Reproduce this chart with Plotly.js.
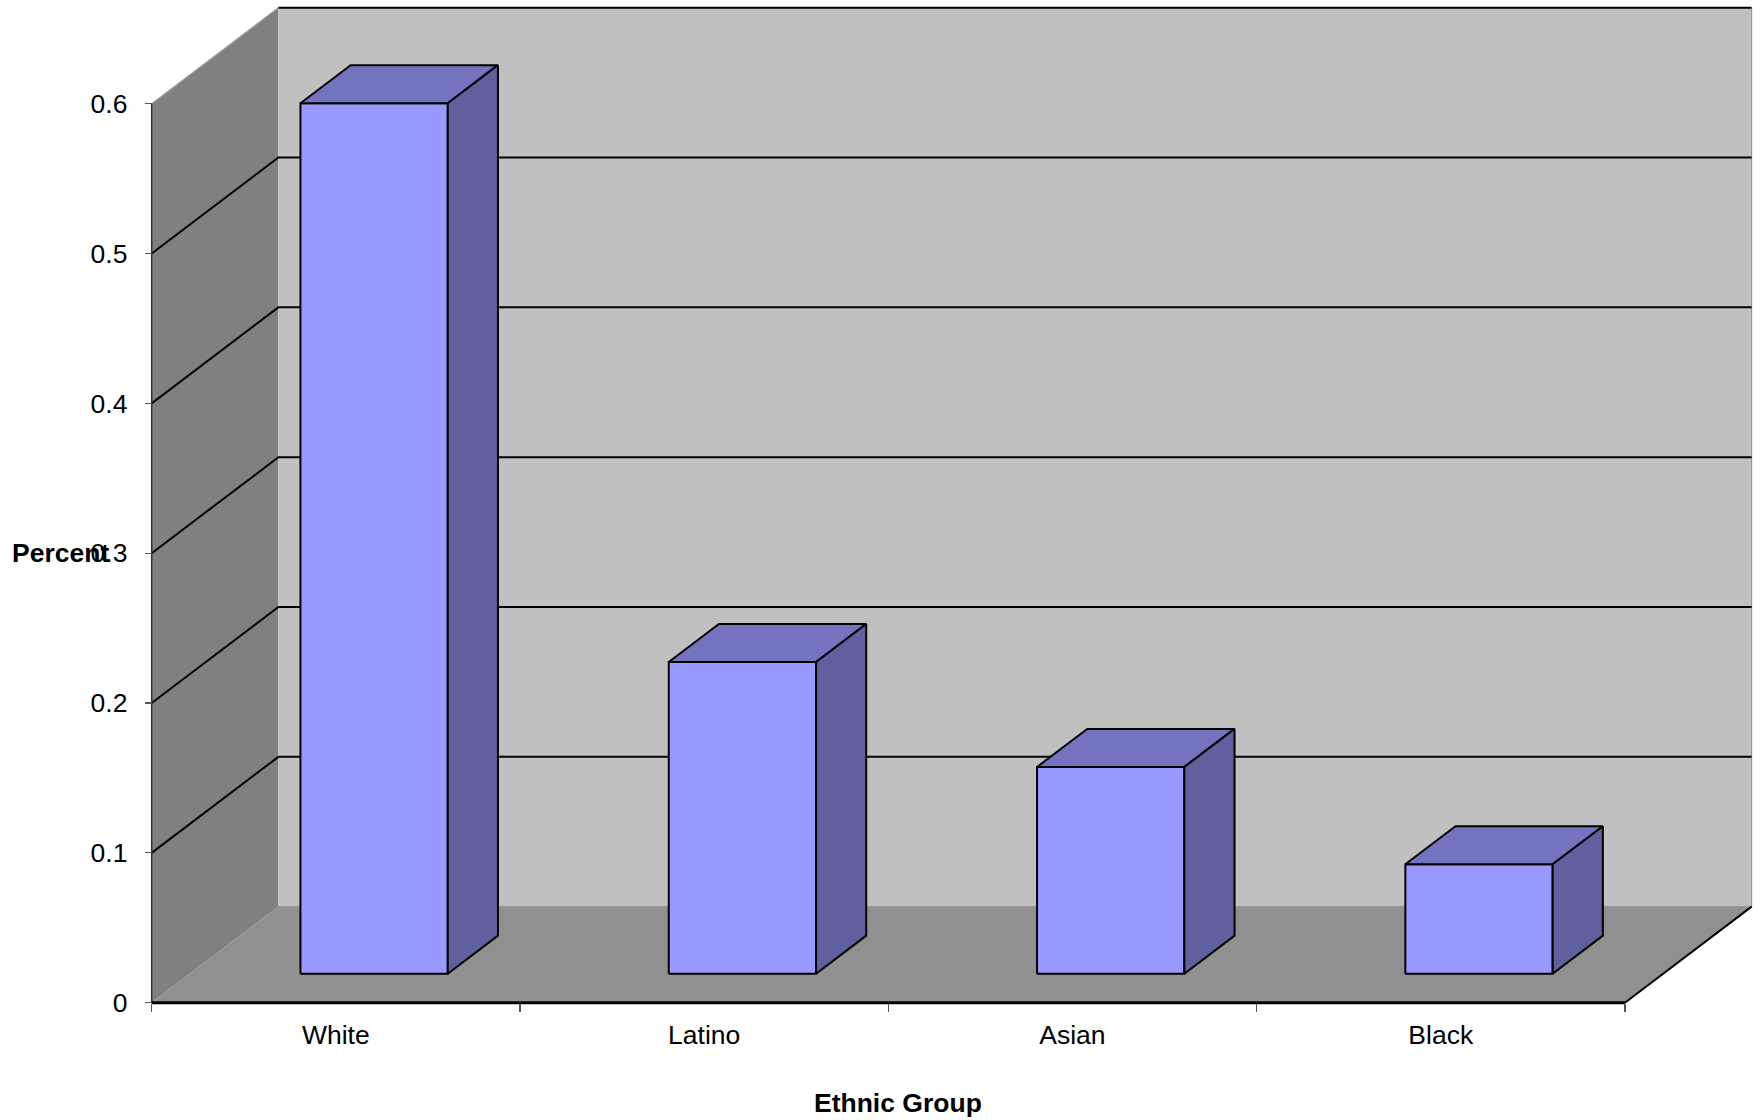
<!DOCTYPE html>
<html>
<head>
<meta charset="utf-8">
<script src="https://cdn.plot.ly/plotly-3.0.1.min.js"></script>
<style>
  html, body { margin: 0; padding: 0; background: #ffffff; }
  #chart { width: 1760px; height: 1120px; }
</style>
</head>
<body>
<div id="chart"></div>
<script>
// ---- data ----
const categories = ['White', 'Latino', 'Asian', 'Black'];
const shares = [0.581, 0.208, 0.138, 0.073];
const yTickValues = [0, 0.1, 0.2, 0.3, 0.4, 0.5, 0.6];
const yTickLabels = ['0', '0.1', '0.2', '0.3', '0.4', '0.5', '0.6'];
const xAxisTitle = 'Ethnic Group';
const yAxisTitle = 'Percent';

// ---- geometry of the oblique 3-D box ----
const W = 1760, H = 1120;
const OX = 151.7, OY = 1002.7;      // front-left floor corner, in pixels
const UX = 368.3, UY = 1498.3;      // pixels per category / per unit of value
const M = { l: 120, r: 4, t: 4, b: 100 };
const plotW = W - M.l - M.r, plotH = H - M.t - M.b;
const DX = 0.344;                   // depth shift along x (category units)
const DY = 0.0641;                  // depth shift along y (value units)
const WALL_TOP = 0.6;
const BAR_LO = 0.3, BAR_HI = 0.7;   // bar span inside a category slot
const F_FRONT = 0.302, F_BACK = 0.698; // bar depth span (fraction of full depth)
const N = categories.length;

const xRange = [(M.l - OX) / UX, (W - M.r - OX) / UX];
const yRange = [(OY - (H - M.b)) / UY, (OY - M.t) / UY];
const pxToPaperX = px => (px - M.l) / plotW;
const pxToPaperY = py => (H - M.b - py) / plotH;

const FONT = '"Liberation Sans", Arial, Helvetica, sans-serif';
const FS = 26.5;

function poly(pts, fill, lineColor, lineWidth) {
  return {
    type: 'scatter', mode: lineWidth ? 'lines' : 'none',
    x: pts.map(p => p[0]), y: pts.map(p => p[1]),
    fill: 'toself', fillcolor: fill,
    line: { color: lineColor || fill, width: lineWidth || 0 },
    hoverinfo: 'skip', showlegend: false
  };
}
function path(pts, color, width) {
  return {
    type: 'scatter', mode: 'lines',
    x: pts.map(p => p ? p[0] : null), y: pts.map(p => p ? p[1] : null),
    line: { color: color, width: width },
    connectgaps: false, hoverinfo: 'skip', showlegend: false
  };
}

const traces = [];

// walls and floor
traces.push(poly([[0, 0], [DX, DY], [DX, WALL_TOP + DY], [0, WALL_TOP], [0, 0]], '#808080'));
traces.push(poly([[DX, DY], [N + DX, DY], [N + DX, WALL_TOP + DY], [DX, WALL_TOP + DY], [DX, DY]], '#c0c0c0'));
traces.push(poly([[0, 0], [N, 0], [N + DX, DY], [DX, DY], [0, 0]], '#909090'));

// soft edges between the panels
traces.push(path([[0, WALL_TOP], [DX, WALL_TOP + DY], null,
                  [0, 0], [DX, DY], [N + DX, DY], null,
                  [N + DX, DY], [N + DX, WALL_TOP + DY]], '#9a9a9a', 1.2));

// gridlines: diagonal on the side wall, horizontal on the back wall
const grid = [];
yTickValues.forEach(v => {
  if (v > 0 && v < WALL_TOP) {
    grid.push([0, v], [DX, v + DY], [N + DX, v + DY], null);
  }
});
traces.push(path(grid, '#000000', 2));
traces.push(path([[DX, WALL_TOP + DY], [N + DX, WALL_TOP + DY]], '#000000', 2));

// front-left vertical edge
traces.push(path([[0, 0], [0, WALL_TOP]], '#333333', 1.5));

// floor front and right edges
traces.push(Object.assign(path([[0, 0], [N, 0]], '#000000', 3), { xaxis: 'x2' }));
traces.push(path([[N, 0], [N + DX, DY]], '#000000', 2));

// bars: front, top and side faces
const fronts = [], tops = [], sides = [];
const fx = F_FRONT * DX, fy = F_FRONT * DY, bx = F_BACK * DX, by = F_BACK * DY;
shares.forEach((v, i) => {
  const x0 = i + BAR_LO, x1 = i + BAR_HI;
  fronts.push([x0 + fx, fy], [x1 + fx, fy], [x1 + fx, fy + v], [x0 + fx, fy + v], [x0 + fx, fy], null);
  tops.push([x0 + fx, fy + v], [x1 + fx, fy + v], [x1 + bx, by + v], [x0 + bx, by + v], [x0 + fx, fy + v], null);
  sides.push([x1 + fx, fy], [x1 + bx, by], [x1 + bx, by + v], [x1 + fx, fy + v], [x1 + fx, fy], null);
});
function faceTrace(pts, fill) {
  return {
    type: 'scatter', mode: 'lines',
    x: pts.map(p => p ? p[0] : null), y: pts.map(p => p ? p[1] : null),
    fill: 'toself', fillcolor: fill,
    line: { color: '#000000', width: 2 },
    hoverinfo: 'skip', showlegend: false
  };
}
traces.push(faceTrace(fronts, '#9999ff'));
traces.push(faceTrace(tops, '#7373bf'));
traces.push(faceTrace(sides, '#60609f'));

const xAxisPos = pxToPaperY(OY);
const yAxisPos = pxToPaperX(OX);

const layout = {
  width: W, height: H,
  margin: Object.assign({ autoexpand: false }, M),
  paper_bgcolor: '#ffffff', plot_bgcolor: 'rgba(0,0,0,0)',
  showlegend: false,
  font: { family: FONT, size: FS, color: '#000000' },
  xaxis: {
    range: xRange, fixedrange: true,
    anchor: 'free', position: xAxisPos,
    showgrid: false, zeroline: false, showline: false,
    tickmode: 'array',
    tickvals: categories.map((c, i) => i + 0.5),
    ticktext: categories,
    ticks: '', ticklabelstandoff: 14,
    tickfont: { family: FONT, size: FS, color: '#000000' }
  },
  xaxis2: {
    overlaying: 'x', range: xRange, fixedrange: true,
    anchor: 'free', position: xAxisPos,
    showgrid: false, zeroline: false, showline: false,
    tickmode: 'array',
    tickvals: categories.map((c, i) => i).concat([N]),
    showticklabels: false,
    ticks: 'outside', ticklen: 8, tickwidth: 1.2, tickcolor: '#555555'
  },
  yaxis: {
    range: yRange, fixedrange: true,
    anchor: 'free', position: yAxisPos,
    showgrid: false, zeroline: false, showline: false,
    tickmode: 'array', tickvals: yTickValues, ticktext: yTickLabels,
    ticks: 'outside', ticklen: 7, tickwidth: 1.2, tickcolor: '#555555',
    ticklabelstandoff: 12,
    tickfont: { family: FONT, size: FS, color: '#000000' }
  },
  annotations: [
    {
      text: '<b>' + yAxisTitle + '</b>',
      xref: 'paper', yref: 'y',
      x: pxToPaperX(10), y: 0.3,
      xanchor: 'left', yanchor: 'middle', showarrow: false,
      font: { family: FONT, size: FS, color: '#000000' }
    },
    {
      text: '<b>' + xAxisTitle + '</b>',
      xref: 'paper', yref: 'paper',
      x: pxToPaperX(898), y: pxToPaperY(1103),
      xanchor: 'center', yanchor: 'middle', showarrow: false,
      font: { family: FONT, size: FS, color: '#000000' }
    }
  ]
};

Plotly.newPlot('chart', traces, layout, { displayModeBar: false, staticPlot: true });
</script>
</body>
</html>
